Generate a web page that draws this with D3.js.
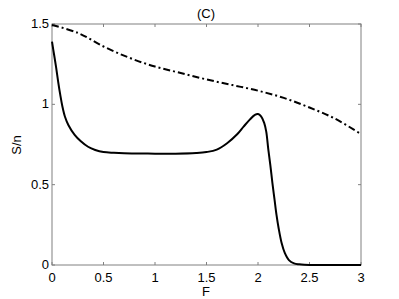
<!DOCTYPE html>
<html><head><meta charset="utf-8">
<script src="https://cdn.jsdelivr.net/npm/d3@7"></script>
<style>body{margin:0;background:#fff}text{font-family:"Liberation Sans",Arial,sans-serif}</style>
</head><body><svg id="c" width="399" height="299"></svg>
<script>
const solidF = [0,0.02,0.04,0.06,0.08,0.1,0.126,0.16,0.22,0.28,0.35,0.42,0.5,0.6,0.7,0.8,1.0,1.2,1.4,1.5,1.6,1.7,1.8,1.86,1.92,1.97,2.0,2.03,2.06,2.08,2.1,2.12,2.14,2.16,2.18,2.2,2.23,2.26,2.3,2.35,2.4,2.45,2.5,3.0];
const solidS = [1.39,1.31,1.23,1.14,1.06,0.99,0.923,0.87,0.81,0.77,0.736,0.716,0.703,0.698,0.695,0.694,0.693,0.693,0.697,0.703,0.718,0.758,0.815,0.861,0.905,0.935,0.94,0.925,0.885,0.83,0.72,0.62,0.51,0.41,0.31,0.23,0.135,0.075,0.03,0.01,0.004,0.001,0,0];
const dashF = [0,0.25,0.5,0.75,1.0,1.25,1.5,1.75,2.0,2.25,2.5,2.75,3.0];
const dashS = [1.494,1.445,1.36,1.29,1.235,1.195,1.155,1.12,1.085,1.04,0.98,0.91,0.815];
const xTicks = [0,0.5,1,1.5,2,2.5,3];
const yTicks = [0,0.5,1,1.5];

const svg = d3.select("#c");
const L=52,R=361,T=24,B=265;
const x = d3.scaleLinear().domain([0,3]).range([L,R]);
const y = d3.scaleLinear().domain([0,1.5]).range([B,T]);
const axisCol = "#808080";
const g = svg.append("g");
g.append("rect").attr("x",L).attr("y",T).attr("width",R-L).attr("height",B-T)
  .attr("fill","none").attr("stroke",axisCol).attr("stroke-width",1);
xTicks.forEach(t=>{
  g.append("line").attr("x1",x(t)).attr("x2",x(t)).attr("y1",B).attr("y2",B-3).attr("stroke",axisCol);
  g.append("line").attr("x1",x(t)).attr("x2",x(t)).attr("y1",T).attr("y2",T+3).attr("stroke",axisCol);
  g.append("text").attr("x",x(t)).attr("y",282).attr("text-anchor","middle").attr("font-size",13).attr("fill","#000").text(t);
});
yTicks.forEach(t=>{
  g.append("line").attr("x1",L).attr("x2",L+3).attr("y1",y(t)).attr("y2",y(t)).attr("stroke",axisCol);
  g.append("line").attr("x1",R).attr("x2",R-3).attr("y1",y(t)).attr("y2",y(t)).attr("stroke",axisCol);
  g.append("text").attr("x",49).attr("y",y(t)+4).attr("text-anchor","end").attr("font-size",13).attr("fill","#000").text(t);
});
svg.append("text").attr("x",206).attr("y",296).attr("text-anchor","middle").attr("font-size",13).text("F");
svg.append("text").attr("transform","translate(21,145) rotate(-90)").attr("text-anchor","middle").attr("font-size",13).text("S/n");
svg.append("text").attr("x",206).attr("y",18).attr("text-anchor","middle").attr("font-size",13).text("(C)");

const line = d3.line().x(d=>x(d[0])).y(d=>y(d[1])).curve(d3.curveCatmullRom.alpha(0.5));
svg.append("path").datum(solidF.map((f,i)=>[f,solidS[i]])).attr("d",line)
  .attr("fill","none").attr("stroke","#000").attr("stroke-width",2).attr("stroke-linejoin","round");
svg.append("path").datum(dashF.map((f,i)=>[f,dashS[i]])).attr("d",line)
  .attr("fill","none").attr("stroke","#000").attr("stroke-width",2).attr("stroke-dasharray","7,3,2,3");
</script></body></html>
